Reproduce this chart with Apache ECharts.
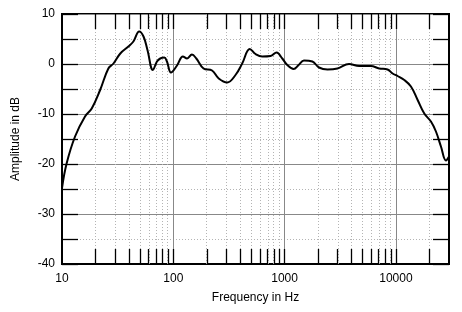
<!DOCTYPE html>
<html>
<head>
<meta charset="utf-8">
<script src="https://cdn.jsdelivr.net/npm/echarts@6/dist/echarts.min.js"></script>
<style>html,body{margin:0;padding:0;background:#fff;}#c{width:462px;height:312px;}</style>
</head>
<body>
<div id="c"></div>
<script>
var freqs = [10, 11, 13.1, 16.1, 18.5, 22, 26.1, 29, 33.4, 39.5, 43.8, 49.4, 54, 58.6, 65.6, 71.3, 76.3, 83, 87.7, 95.3,
  108, 122, 133, 147, 161, 187, 223, 256, 305, 362, 416, 487, 548, 630, 748, 847, 953,
  1057, 1205, 1337, 1493, 1778, 2037, 2426, 2985, 3793, 4677, 5957, 7080, 8410, 9340,
  10350, 11900, 13650, 15680, 17990, 20650, 22900, 25400, 28180, 30000];
var amplitude = [-24.8, -19.9, -14.5, -10.5, -8.9, -5.2, -0.9, 0.1, 2.1, 3.5, 4.5, 6.5, 5.5, 2.8, -1.2, 0.5, 1.1, 1.3, 0.5, -1.7,
  -0.3, 1.5, 1.1, 1.9, 1.1, -0.9, -1.3, -2.9, -3.7, -2.2, 0.1, 3.0, 2.0, 1.5, 1.6, 2.3, 1.1,
  -0.2, -1.0, -0.2, 0.7, 0.5, -0.7, -1.1, -0.9, 0, -0.4, -0.4, -0.9, -1.1, -1.9,
  -2.4, -3.2, -4.5, -7.2, -9.9, -11.5, -13.5, -16.5, -19.3, -18.5];
var decadeTicks = [10, 100, 1000, 10000];
var minorFreqs = [20,30,40,50,60,70,80,90,200,300,400,500,600,700,800,900,2000,3000,4000,5000,6000,7000,8000,9000,20000];
var xMinFreq = 10, xMaxFreq = 30000;
var yMin = -40, yMax = 10;

var lg = Math.log10;
var seriesData = freqs.map(function (f, i) { return [lg(f), amplitude[i]]; });

var gridDot = {color: '#b4b4b4', type: [1, 2], width: 1};
var tickStyle = {color: '#000', type: 'solid', width: 1.3};
var ml = [];
minorFreqs.forEach(function (m) {
  ml.push({xAxis: lg(m), lineStyle: gridDot});
});
minorFreqs.concat(decadeTicks.slice(1)).forEach(function (m) {
  ml.push([{coord: [lg(m), yMax], lineStyle: tickStyle}, {coord: [lg(m), yMax - 3]}]);
  ml.push([{coord: [lg(m), yMin], lineStyle: tickStyle}, {coord: [lg(m), yMin + 3]}]);
});

var font = '"Liberation Sans", Arial, sans-serif';
var chart = echarts.init(document.getElementById('c'), null, {renderer: 'canvas'});
chart.setOption({
  animation: false,
  backgroundColor: '#fff',
  grid: {left: 62, right: 13, top: 14, bottom: 48, show: true, borderColor: '#000', borderWidth: 2, backgroundColor: 'transparent'},
  xAxis: {
    type: 'value', min: lg(xMinFreq), max: lg(xMaxFreq), interval: 1,
    name: 'Frequency in Hz', nameLocation: 'middle', nameGap: 28,
    nameTextStyle: {color: '#000', fontSize: 12, fontFamily: font},
    axisLine: {show: true, onZero: false, lineStyle: {color: '#000', width: 2}},
    axisTick: {show: false},
    axisLabel: {color: '#000', fontSize: 12, fontFamily: font, margin: 9,
      formatter: function (v) { return Math.abs(v - Math.round(v)) < 1e-6 ? String(Math.round(Math.pow(10, v))) : ''; }},
    splitLine: {show: true, lineStyle: {color: '#888', width: 1}}
  },
  yAxis: [{
    type: 'value', min: yMin, max: yMax, interval: 10, position: 'left',
    name: 'Amplitude in dB', nameLocation: 'middle', nameGap: 40,
    nameTextStyle: {color: '#000', fontSize: 12, fontFamily: font},
    axisLine: {show: true, onZero: false, lineStyle: {color: '#000', width: 2}},
    axisTick: {show: true, inside: true, length: 16, lineStyle: {color: '#000', width: 1.3}},
    minorTick: {show: true, splitNumber: 2, length: 16, lineStyle: {color: '#000', width: 1.3}},
    minorSplitLine: {show: true, lineStyle: gridDot},
    axisLabel: {color: '#000', fontSize: 12, fontFamily: font, margin: 7},
    splitLine: {show: true, lineStyle: {color: '#888', width: 1}}
  }, {
    type: 'value', min: yMin, max: yMax, interval: 10, position: 'right',
    axisLine: {show: true, onZero: false, lineStyle: {color: '#000', width: 2}},
    axisTick: {show: true, inside: true, length: 16, lineStyle: {color: '#000', width: 1.3}},
    minorTick: {show: true, splitNumber: 2, length: 16, lineStyle: {color: '#000', width: 1.3}},
    axisLabel: {show: false},
    splitLine: {show: false}
  }],
  series: [{
    type: 'line', data: seriesData, smooth: 0.4, symbol: 'none', z: 5,
    lineStyle: {color: '#000', width: 2},
    markLine: {silent: true, symbol: 'none', label: {show: false}, animation: false, data: ml, z: 1}
  }]
});
</script>
</body>
</html>
